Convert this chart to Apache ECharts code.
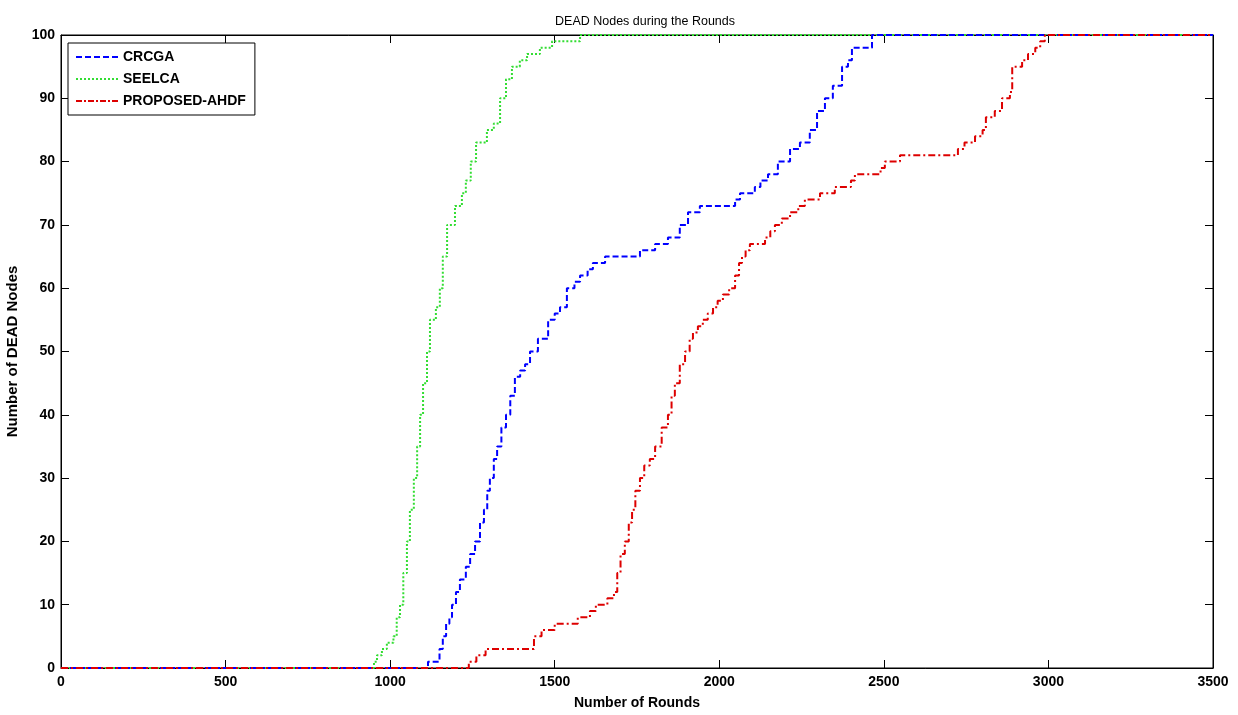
<!DOCTYPE html>
<html>
<head>
<meta charset="utf-8">
<script src="https://cdn.jsdelivr.net/npm/echarts@6/dist/echarts.min.js"></script>
<style>
html,body{margin:0;padding:0;background:#fff;}
#chart{width:1238px;height:715px;}
</style>
</head>
<body>
<div id="chart"></div>
<script>
// ---- data (rounds at which the count steps to the given value) ----
const crcgaRounds = [0, 1115, 1150, 1160, 1170, 1180, 1188, 1200, 1212, 1230, 1243, 1258, 1273, 1285, 1295, 1303, 1315, 1325, 1338, 1352, 1365, 1379, 1395, 1410, 1425, 1449, 1480, 1500, 1516, 1537, 1560, 1577, 1600, 1616, 1653, 1759, 1805, 1844, 1880, 1905, 1941, 2048, 2063, 2108, 2125, 2148, 2178, 2215, 2245, 2275, 2297, 2321, 2345, 2373, 2391, 2403, 2464, 3500];
const crcgaDead   = [0, 1,    3,    5,    7,    8,    10,   12,   14,   16,   18,   20,   23,   25,   28,   30,   33,   35,   38,   40,   43,   46,   47,   48,   50,   52,   55,   56,   57,   60,   61,   62,   63,   64,   65,   66,   67,   68,   70,   72,   73,   74,   75,   76,   77,   78,   80,   82,   83,   85,   88,   90,   92,   95,   96,   98,   100,  100];

const seelcaRounds = [0, 951, 960, 975, 990, 1010, 1020, 1030, 1040, 1051, 1060, 1072, 1082, 1091, 1100, 1112, 1121, 1139, 1151, 1160, 1173, 1197, 1218, 1230, 1245, 1261, 1294, 1315, 1334, 1352, 1370, 1394, 1416, 1455, 1492, 1577, 3500];
const seelcaDead   = [0, 1,   2,   3,   4,   5,    8,    10,   15,   20,   25,   30,   35,   40,   45,   50,   55,   57,   60,   65,   70,   73,   75,   77,   80,   83,   85,   86,   90,   93,   95,   96,   97,   98,   99,   100,  100];

const ahdfRounds = [0, 1239, 1262, 1290, 1437, 1460, 1500, 1570, 1607, 1625, 1660, 1680, 1690, 1700, 1713, 1725, 1735, 1745, 1759, 1772, 1789, 1805, 1825, 1844, 1855, 1865, 1880, 1896, 1910, 1920, 1935, 1950, 1965, 1981, 1995, 2011, 2030, 2048, 2060, 2069, 2080, 2093, 2139, 2155, 2169, 2190, 2215, 2240, 2260, 2306, 2351, 2400, 2412, 2490, 2503, 2549, 2725, 2745, 2777, 2800, 2810, 2837, 2859, 2883, 2890, 2920, 2938, 2960, 2975, 2989, 3500];
const ahdfDead   = [0, 1,    2,    3,    5,    6,    7,    8,    9,    10,   11,   12,   15,   18,   20,   23,   25,   28,   30,   32,   33,   35,   38,   40,   43,   45,   48,   50,   52,   53,   54,   55,   56,   57,   58,   59,   60,   62,   64,   65,   66,   67,   68,   69,   70,   71,   72,   73,   74,   75,   76,   77,   78,   79,   80,   81,   82,   83,   84,   85,   87,   88,   90,   91,   95,   96,   97,   98,   99,   100,  100];

const seriesNames = ['CRCGA', 'SEELCA', 'PROPOSED-AHDF'];
const xTicks = [0, 500, 1000, 1500, 2000, 2500, 3000, 3500];
const yTicks = [0, 10, 20, 30, 40, 50, 60, 70, 80, 90, 100];

const pair = (xs, ys) => xs.map((x, i) => [x, ys[i]]);
const FONT = "'Liberation Sans', Arial, sans-serif";

// legend line samples (dash patterns drawn as path icons, 42 wide x 2 high)
function dashPath(segs) {
  return 'path://' + segs.map(s => `M${s[0]},0L${s[1]},0L${s[1]},2L${s[0]},2Z`).join(' ');
}
const iconDash = dashPath([[0,6],[9,15],[18,24],[27,33],[36,42]]);
const iconDot = dashPath([[0,2],[4,6],[8,10],[12,14],[16,18],[20,22],[24,26],[28,30],[32,34],[36,38],[40,42]]);
const iconDashDot = dashPath([[0,6],[8,10],[12,18],[20,22],[24,30],[32,34],[36,42]]);
const legendIcons = [iconDash, iconDot, iconDashDot];

const chart = echarts.init(document.getElementById('chart'), null, {renderer: 'canvas'});

const baseX = {
  type: 'value', gridIndex: 0, show: true,
  min: xTicks[0], max: xTicks[xTicks.length - 1], interval: 500,
  splitLine: {show: false},
  axisLine: {show: true, onZero: false, lineStyle: {color: '#000', width: 1}},
  axisTick: {show: true, inside: true, length: 8, lineStyle: {color: '#000'}},
};
const baseY = {
  type: 'value', gridIndex: 0, show: true,
  min: yTicks[0], max: yTicks[yTicks.length - 1], interval: 10,
  splitLine: {show: false},
  axisLine: {show: true, onZero: false, lineStyle: {color: '#000', width: 1}},
  axisTick: {show: true, inside: true, length: 8, lineStyle: {color: '#000'}},
};

const option = {
  backgroundColor: '#fff',
  animation: false,
  title: {
    text: 'DEAD Nodes during the Rounds',
    left: 640, top: 10, textAlign: 'center',
    textStyle: {fontFamily: FONT, fontSize: 12.5, fontWeight: 'normal', color: '#000'}
  },
  grid: {
    left: 61, right: 25, top: 35, bottom: 47, containLabel: false, outerBoundsMode: 'none',
    show: true, borderColor: '#000', borderWidth: 1, backgroundColor: 'transparent'
  },
  legend: {
    orient: 'vertical', left: 68, top: 43,
    data: seriesNames.map((n, i) => ({name: n, icon: legendIcons[i]})),
    backgroundColor: '#fff', borderColor: '#000', borderWidth: 1,
    padding: [6, 9, 6, 8], itemGap: 6, itemWidth: 42, itemHeight: 2,
    textStyle: {fontFamily: FONT, fontSize: 14, fontWeight: 'bold', color: '#000', lineHeight: 16}
  },
  xAxis: [
    Object.assign({}, baseX, {
      position: 'bottom',
      name: 'Number of Rounds', nameLocation: 'middle', nameGap: 28,
      nameTextStyle: {fontFamily: FONT, fontSize: 14, fontWeight: 'bold', color: '#000'},
      axisLabel: {margin: 7, fontFamily: FONT, fontSize: 14, fontWeight: 'bold', color: '#000', formatter: v => String(v)}
    }),
    Object.assign({}, baseX, {position: 'top', axisLabel: {show: false}})
  ],
  yAxis: [
    Object.assign({}, baseY, {
      position: 'left',
      name: 'Number of DEAD Nodes', nameLocation: 'middle', nameGap: 33,
      nameTextStyle: {fontFamily: FONT, fontSize: 15, fontWeight: 'bold', color: '#000'},
      axisLabel: {margin: 6, fontFamily: FONT, fontSize: 14, fontWeight: 'bold', color: '#000', formatter: v => String(v)}
    }),
    Object.assign({}, baseY, {position: 'right', axisLabel: {show: false}})
  ],
  series: [
    {
      name: seriesNames[0], type: 'line', step: 'end', showSymbol: false, symbol: 'none',
      data: pair(crcgaRounds, crcgaDead), z: 3,
      itemStyle: {color: '#0000ff'},
      lineStyle: {color: '#0000ff', width: 2, type: [6, 3]}
    },
    {
      name: seriesNames[1], type: 'line', step: 'end', showSymbol: false, symbol: 'none',
      data: pair(seelcaRounds, seelcaDead), z: 2,
      itemStyle: {color: '#33dd33'},
      lineStyle: {color: '#33dd33', width: 2, type: [2, 2]}
    },
    {
      name: seriesNames[2], type: 'line', step: 'end', showSymbol: false, symbol: 'none',
      data: pair(ahdfRounds, ahdfDead), z: 4,
      itemStyle: {color: '#dd0000'},
      lineStyle: {color: '#dd0000', width: 2, type: [7, 3, 2, 3]}
    },
    {
      name: 'frame', type: 'line', xAxisIndex: 1, yAxisIndex: 1, data: [], silent: true,
      showSymbol: false, symbol: 'none', lineStyle: {opacity: 0}
    }
  ]
};
chart.setOption(option);
</script>
</body>
</html>
